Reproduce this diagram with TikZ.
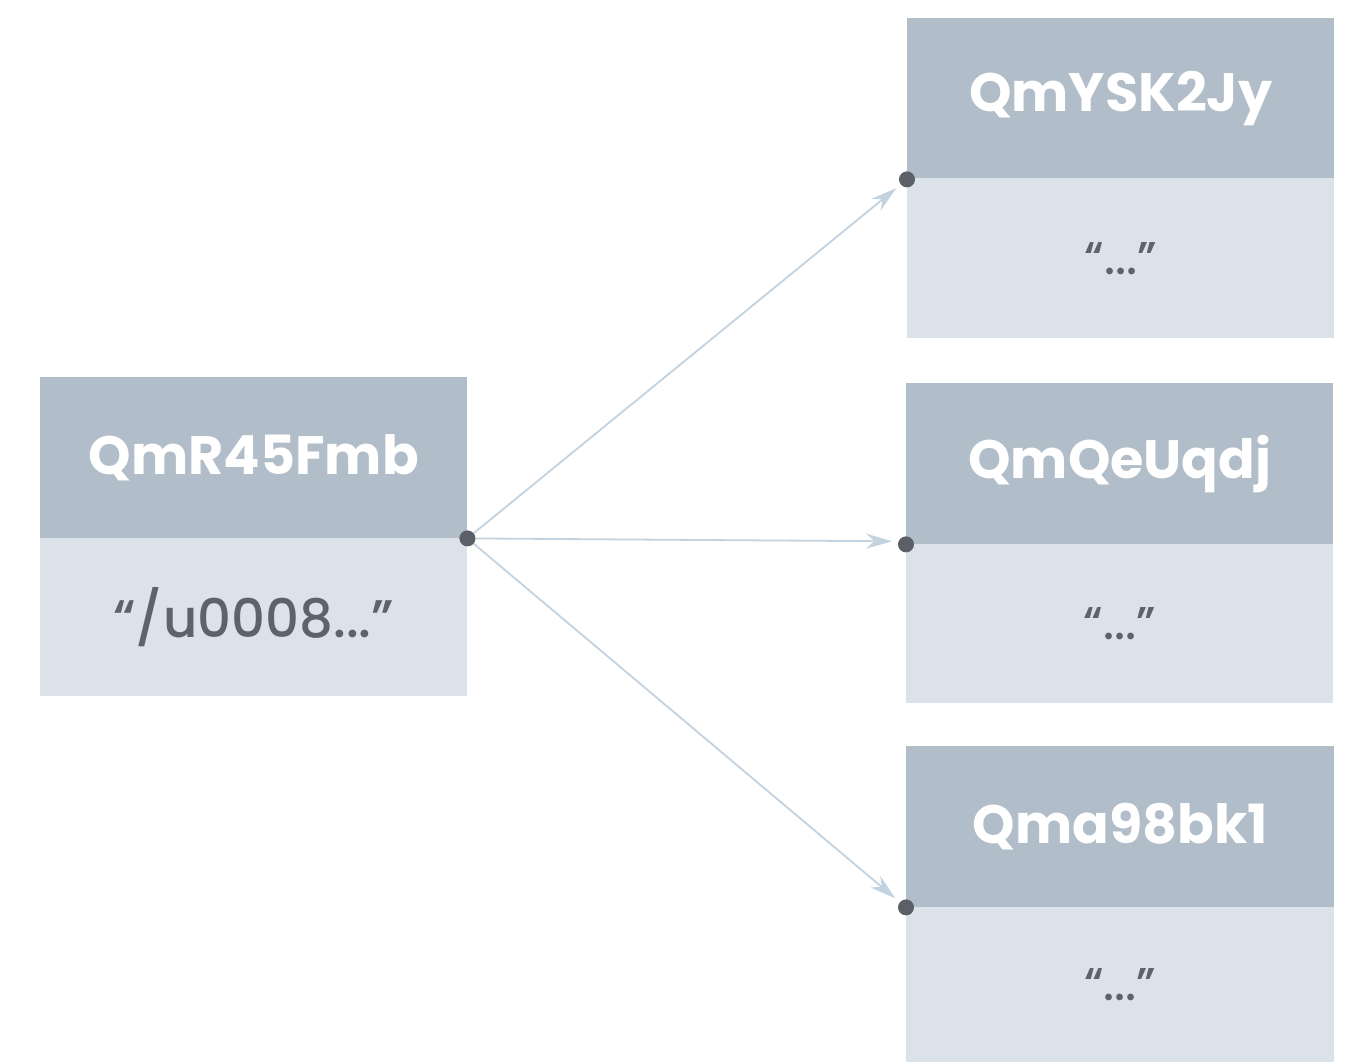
\documentclass[tikz,border=0pt]{standalone}
\usepackage{fontspec}
\setmainfont{Poppins}
\newfontfamily\medfont{Poppins Medium}
\usetikzlibrary{arrows.meta}
\definecolor{hdr}{HTML}{B1BDC8}
\definecolor{bdy}{HTML}{DCE2EA}
\definecolor{txt}{HTML}{5C636B}
\definecolor{arr}{HTML}{C3D2DF}
\definecolor{dotc}{HTML}{5B6068}
\tikzset{
  hbox/.style={fill=hdr, draw=none, minimum width=427pt, minimum height=161pt, inner sep=0pt, text=white, font=\fontsize{54}{60}\selectfont\bfseries},
  bbox/.style={fill=bdy, draw=none, minimum width=427pt, minimum height=158pt, inner sep=0pt, text=txt, font=\fontsize{53}{58}\medfont},
  qbox/.style={bbox, font=\fontsize{46}{50}\medfont},
  pin/.style={circle, fill=dotc, minimum size=16pt, inner sep=0pt},
  link/.style={draw=arr, line width=1.8pt, -{Stealth[length=26pt,width=15pt]}, shorten >=14pt}
}
\begin{document}
\begin{tikzpicture}[x=1pt,y=1pt]
\useasboundingbox (0,0) rectangle (1372,1062);
% left
\node[hbox, anchor=north west] (h0) at (40,685) {QmR45Fmb};
\node[bbox, anchor=north west] (b0) at (40,524) {“/u0008...”};
% right 1
\node[hbox, anchor=north west] (h1) at (907,1044) {QmYSK2Jy};
\node[qbox, anchor=north west, minimum height=160pt] (b1) at (907,884) {“...”};
% right 2
\node[hbox, anchor=north west] (h2) at (906,679) {QmQeUqdj};
\node[qbox, anchor=north west, minimum height=159pt] (b2) at (906,518) {“...”};
% right 3
\node[hbox, anchor=north west, minimum width=428pt] (h3) at (906,316) {Qma98bk1};
\node[qbox, anchor=north west, minimum width=428pt, minimum height=155pt] (b3) at (906,155) {“...”};
% pin positions
\coordinate (c0) at (h0.south east);
\coordinate (c1) at (h1.south west);
\coordinate (c2) at ([yshift=3pt]h2.south west);
\coordinate (c3) at (h3.south west);
% links
\draw[link] (c0) -- (c1);
\draw[link] (c0) -- (c2);
\draw[link] (c0) -- (c3);
% pins
\node[pin] (p0) at (c0) {};
\node[pin] (p1) at (c1) {};
\node[pin] (p2) at (h2.south west) {};
\node[pin] (p3) at (c3) {};
\end{tikzpicture}
\end{document}
